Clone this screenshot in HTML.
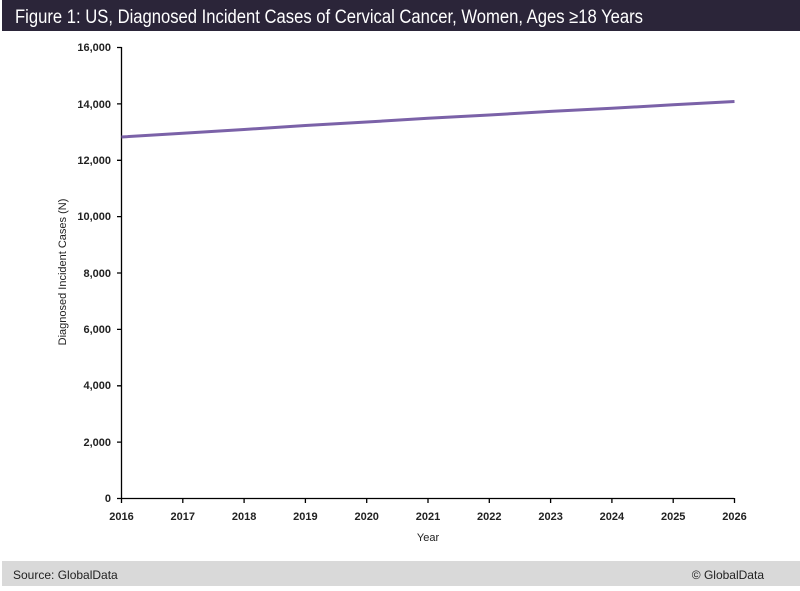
<!DOCTYPE html>
<html><head><meta charset="utf-8"><style>
body{margin:0;width:800px;height:586px;background:#fff;overflow:hidden;font-family:"Liberation Sans",sans-serif}
</style></head><body>
<svg width="800" height="586" xmlns="http://www.w3.org/2000/svg" font-family="Liberation Sans, sans-serif">
<rect x="2" y="0" width="798" height="31" fill="#2b2539"/>
<text x="15" y="23" fill="#fff" font-size="19" textLength="628" lengthAdjust="spacingAndGlyphs">Figure 1: US, Diagnosed Incident Cases of Cervical Cancer, Women, Ages ≥18 Years</text>
<rect x="2" y="561" width="798" height="25" fill="#d9d9d9"/>
<text x="13" y="579" font-size="12" fill="#222">Source: GlobalData</text>
<text x="764" y="579" font-size="12" fill="#222" text-anchor="end">© GlobalData</text>
<g stroke="#000" stroke-width="1.3" fill="none">
<line x1="121.5" y1="47" x2="121.5" y2="498"/>
<line x1="121" y1="498.5" x2="734" y2="498.5"/>
<path d="M117 47.5H121.5M117 103.9H121.5M117 160.3H121.5M117 216.6H121.5M117 273H121.5M117 329.4H121.5M117 385.8H121.5M117 442.1H121.5M117 498.5H121.5"/>
<path d="M121.5 498V503M182.8 498V503M244.1 498V503M305.4 498V503M366.7 498V503M428 498V503M489.3 498V503M550.6 498V503M611.9 498V503M673.2 498V503M734.5 498V503"/>
</g>
<g font-size="11" font-weight="bold" fill="#222" text-anchor="end">
<text x="111" y="51">16,000</text><text x="111" y="108">14,000</text><text x="111" y="164">12,000</text><text x="111" y="220">10,000</text><text x="111" y="277">8,000</text><text x="111" y="333">6,000</text><text x="111" y="389">4,000</text><text x="111" y="446">2,000</text><text x="111" y="502">0</text>
</g>
<g font-size="11" font-weight="bold" fill="#222" text-anchor="middle">
<text x="121.5" y="520">2016</text><text x="182.8" y="520">2017</text><text x="244.1" y="520">2018</text><text x="305.4" y="520">2019</text><text x="366.7" y="520">2020</text><text x="428" y="520">2021</text><text x="489.3" y="520">2022</text><text x="550.6" y="520">2023</text><text x="611.9" y="520">2024</text><text x="673.2" y="520">2025</text><text x="734.5" y="520">2026</text>
</g>
<text x="428" y="541" font-size="11" fill="#222" text-anchor="middle">Year</text>
<text transform="translate(66 272) rotate(-90)" font-size="11" fill="#222" text-anchor="middle">Diagnosed Incident Cases (N)</text>
<polyline fill="none" stroke="#7b62a8" stroke-width="3" points="121.5,137 182.8,133.3 244.1,129.5 305.4,125.5 366.7,122 428,118.3 489.3,115 550.6,111.4 611.9,108.3 673.2,104.8 734.5,101.5"/>
</svg>
</body></html>
